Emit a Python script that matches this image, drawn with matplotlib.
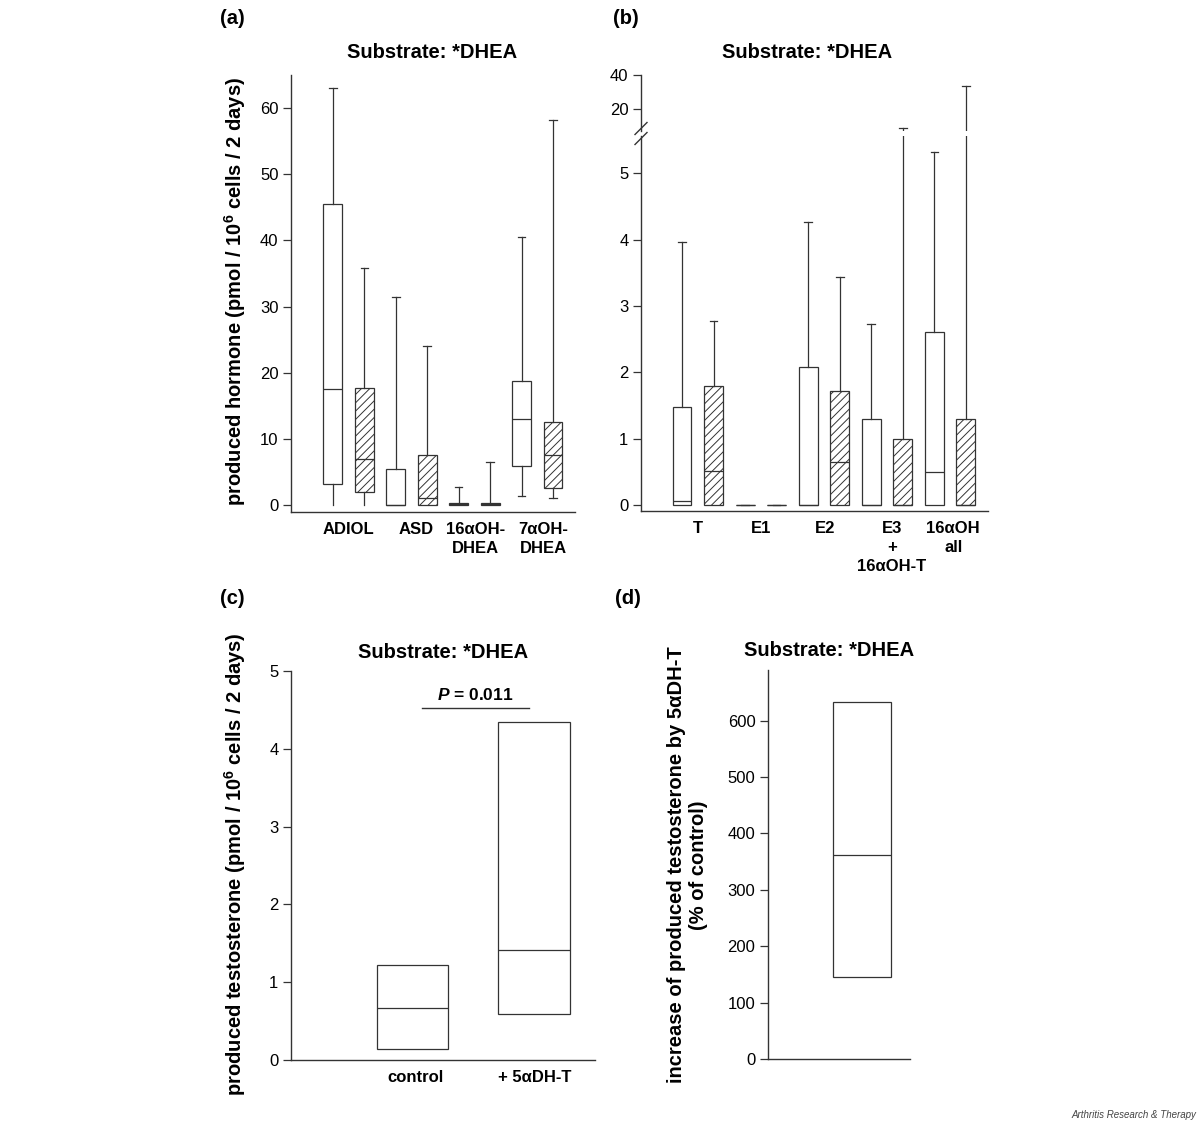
import matplotlib
matplotlib.use('Agg')
import matplotlib.pyplot as plt
from matplotlib.lines import Line2D

plt.rcParams['font.family'] = ['Liberation Sans', 'DejaVu Sans']
plt.rcParams['mathtext.fontset'] = 'custom'
plt.rcParams['mathtext.rm'] = 'Liberation Sans:bold'
plt.rcParams['mathtext.bf'] = 'Liberation Sans:bold'
plt.rcParams['mathtext.it'] = 'Liberation Sans:bold:italic'
plt.rcParams['hatch.linewidth'] = 0.7
plt.rcParams['hatch.color'] = '#333333'

# panel (a): open = first of each pair, hatched = second
a_labels = ['ADIOL', 'ASD', '16αOH-\nDHEA', '7αOH-\nDHEA']
a_q1 = [3.1, 2.0, 0, 0, 0, 0, 5.9, 2.5]
a_med = [17.6, 6.9, 0, 1.0, 0.15, 0.15, 13.0, 7.6]
a_q3 = [45.5, 17.7, 5.4, 7.5, 0.3, 0.3, 18.8, 12.6]
a_lo = [0, 0, 0, 0, 0, 0, 1.4, 1.0]
a_hi = [63.0, 35.8, 31.4, 24.0, 2.7, 6.5, 40.5, 58.2]

# panel (b)
b_labels = ['T', 'E1', 'E2', 'E3\n+\n16αOH-T', '16αOH\nall']
b_q1 = [0, 0, 0, 0, 0, 0, 0, 0, 0, 0]
b_med = [0.06, 0.51, 0, 0, 0, 0.65, 0, 0, 0.50, 0]
b_q3 = [1.48, 1.79, 0, 0, 2.08, 1.72, 1.30, 0.99, 2.60, 1.29]
b_lo = [0, 0, 0, 0, 0, 0, 0, 0, 0, 0]
b_hi = [3.97, 2.77, 0, 0, 4.27, 3.44, 2.72, 8.7, 5.32, 33.5]

# panel (c)
c_labels = ['control', '+ 5αDH-T']
c_q1 = [0.14, 0.59]
c_med = [0.67, 1.41]
c_q3 = [1.22, 4.34]
p_text = '$P$ = 0.011'

# panel (d)
d_q1 = [145]
d_med = [362]
d_q3 = [633]

LINE = '#333333'
W, H = 1200, 1123
TITLE = 'Substrate: *DHEA'


def axes_px(fig, left, right, top, bottom):
    return fig.add_axes([left / W, 1 - bottom / H, (right - left) / W, (bottom - top) / H])


def make_stats(q1, med, q3, lo, hi):
    return [dict(q1=a, med=b, q3=c, whislo=d, whishi=e, fliers=[])
            for a, b, c, d, e in zip(q1, med, q3, lo, hi)]


def draw_boxes(ax, st, width, hatched=True, caps=True):
    pos = list(range(1, len(st) + 1))
    lp = dict(color=LINE, linewidth=0.9)
    art = ax.bxp(st, positions=pos, widths=width, patch_artist=True,
                 showcaps=caps, showfliers=False,
                 boxprops=dict(facecolor='white', edgecolor=LINE, linewidth=0.9),
                 medianprops=lp, whiskerprops=lp, capprops=lp,
                 capwidths=width * 0.4, manage_ticks=False)
    for i, box in enumerate(art['boxes']):
        if hatched and i % 2 == 1:
            box.set_hatch('////')
    if caps:
        for i, s in enumerate(st):
            if s['whislo'] == 0:
                art['caps'][2 * i].set_visible(False)
    return art


def style(ax, bottom=True):
    ax.spines['top'].set_visible(False)
    ax.spines['right'].set_visible(False)
    ax.spines['bottom'].set_visible(bottom)
    for s in ['left', 'bottom']:
        ax.spines[s].set_color(LINE)
        ax.spines[s].set_linewidth(1.0)
    ax.tick_params(axis='y', direction='out', length=6, width=0.9,
                   color=LINE, labelsize=12, pad=3)
    ax.tick_params(axis='x', length=0, pad=7)
    for t in ax.get_xticklabels():
        t.set_linespacing(1.35)


fig = plt.figure(figsize=(12, 11.23), dpi=100)

# ---- (a)
ax = axes_px(fig, 291, 575, 75, 512)
draw_boxes(ax, make_stats(a_q1, a_med, a_q3, a_lo, a_hi), 0.6)
ax.set_xlim(-0.33, 8.7)
ax.set_ylim(-1.06, 65)
ax.set_yticks(range(0, 61, 10))
ax.set_xticks([1.5, 3.65, 5.55, 7.7], a_labels, fontsize=12, fontweight='bold')
style(ax)

# ---- (b) broken axis
axl = axes_px(fig, 641, 988, 136, 511)
axu = axes_px(fig, 641, 988, 75, 131)
b_stats = make_stats(b_q1, b_med, b_q3, b_lo, b_hi)
for a in (axl, axu):
    draw_boxes(a, b_stats, 0.6)
    a.set_xlim(-0.3, 10.7)
axl.set_ylim(-0.09, 5.56)
axl.set_yticks(range(0, 6))
axl.set_xticks([1.5, 3.5, 5.55, 7.65, 9.6], b_labels, fontsize=12, fontweight='bold')
style(axl)
axu.set_ylim(7.06, 40)
axu.set_yticks([20, 40])
axu.set_xticks([])
style(axu, bottom=False)
axu.patch.set_visible(False)
for yc in (128.5, 138.5):
    fig.add_artist(Line2D([(641 - 6) / W, (641 + 6) / W],
                          [1 - (yc + 6) / H, 1 - (yc - 6) / H],
                          color=LINE, linewidth=1.0))

# ---- (c)
ax = axes_px(fig, 291, 595, 671, 1060)
draw_boxes(ax, make_stats(c_q1, c_med, c_q3, c_q1, c_q3), 0.59, hatched=False, caps=False)
ax.set_xlim(0, 2.5)
ax.set_ylim(0, 5)
ax.set_yticks(range(0, 6))
ax.set_xticks([1.02, 2.0], c_labels, fontsize=12, fontweight='bold')
ax.plot([1.08, 1.955], [4.52, 4.52], color=LINE, linewidth=1.0)
ax.text(1.515, 4.69, p_text, ha='center', va='center', fontsize=12.5, fontweight='bold')
style(ax)

# ---- (d)
ax = axes_px(fig, 768, 910, 670, 1059)
draw_boxes(ax, make_stats(d_q1, d_med, d_q3, d_q1, d_q3), 0.58, hatched=False, caps=False)
ax.set_xlim(0.057, 1.48)
ax.set_ylim(0, 690)
ax.set_yticks(range(0, 601, 100))
ax.set_xticks([])
style(ax)

# ---- texts
for x, y, s in [(220, 18, '(a)'), (613, 18, '(b)'), (220, 598, '(c)'), (615, 598, '(d)')]:
    fig.text(x / W, 1 - y / H, s, fontsize=14.5, fontweight='bold', ha='left', va='center')
for x, y in [(432, 53), (807, 53), (443, 652), (829, 650)]:
    fig.text(x / W, 1 - y / H, TITLE, fontsize=14.5, fontweight='bold', ha='center', va='center')

fig.text(235 / W, 1 - 292 / H, 'produced hormone (pmol / 10$^{6}$ cells / 2 days)',
         rotation=90, fontsize=14.5, fontweight='bold', ha='center', va='center')
fig.text(235 / W, 1 - 864 / H, 'produced testosterone (pmol / 10$^{6}$ cells / 2 days)',
         rotation=90, fontsize=14.5, fontweight='bold', ha='center', va='center')
fig.text(688 / W, 1 - 865 / H, 'increase of produced testosterone by 5αDH-T\n(% of control)',
         rotation=90, fontsize=14.5, fontweight='bold', ha='center', va='center',
         multialignment='center', linespacing=1.2)

fig.text(1196 / W, 1 - 1115 / H, 'Arthritis Research & Therapy', fontsize=7,
         style='italic', color='#444444', ha='right', va='center')

fig.savefig('out.png', dpi=100)
